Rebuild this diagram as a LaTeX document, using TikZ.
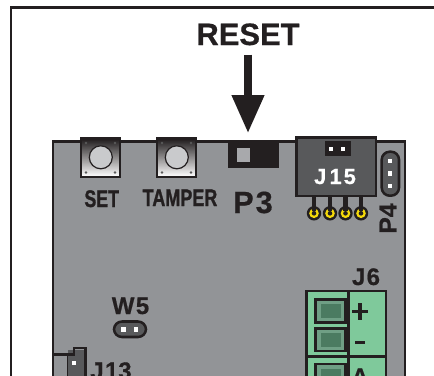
\documentclass[tikz,border=0pt]{standalone}
\usepackage{fontspec}
\setmainfont{Liberation Sans}
\newfontfamily\heavyface[FakeBold=1.4]{Liberation Sans Bold}
\newfontfamily\midface[FakeBold=0.6]{Liberation Sans Bold}
\usetikzlibrary{arrows.meta}
\definecolor{ink}{HTML}{231F20}
\definecolor{board}{HTML}{929497}
\definecolor{module}{HTML}{58595B}
\definecolor{termgreen}{HTML}{7FC99B}
\definecolor{termdark}{HTML}{4B7B61}
\definecolor{termbevel}{HTML}{6F9F85}
\definecolor{capgray}{HTML}{C9CACC}
\definecolor{pinyellow}{HTML}{F5D90A}
\newcommand{\pxfont}[1]{\fontsize{#1}{#1}\selectfont\midface}
\newcommand{\heavyfont}[1]{\fontsize{#1}{#1}\selectfont\heavyface}
\tikzset{
  frameline/.style={draw=ink,line width=2.2pt},
  boardbody/.style={fill=board,draw=ink,line width=2.2pt},
  lab/.style={text=ink,inner sep=0pt,anchor=base,font=\pxfont{18}},
  narrowlab/.style={text=ink,inner sep=0pt,anchor=base,font=\heavyfont{18}},
  hole/.style={fill=white,draw=none},
  pill/.style={fill=module,draw=ink,line width=1.9pt,rounded corners=6pt},
  termwell/.style={fill=termbevel,draw=ink,line width=2pt},
  termface/.style={fill=termdark,draw=none},
  greenblock/.style={fill=termgreen,draw=ink,line width=1.9pt},
  capdisc/.style={fill=capgray,draw=ink,line width=.9pt},
  capdot/.style={fill=gray!70!black,draw=none},
}
\newcommand{\terminal}[2]{%
  \draw[termwell] (315.7,#1) rectangle (345.7,#2);
  \fill[termface] (320.5,#1+4.5) rectangle (341,#2-4.5);}
\newcommand{\capswitch}[1]{%
  \foreach \row in {0,...,38} {
    \pgfmathtruncatemacro{\dark}{max(0,min(100,104-2.7*\row))}
    \fill[ink!\dark!white] (#1-19.5,138+\row) rectangle (#1+19.5,139.2+\row);
  }
  \draw[ink,line width=.8pt] (#1-19.5,138) rectangle (#1+19.5,177);
  \foreach \dx in {-14.5,14.5} \foreach \yy in {143,172.5}
    \fill[capdot] (#1+\dx,\yy) circle (1.3);
  \draw[capdisc] (#1+.3,157.3) circle (11.5);}
\begin{document}
\begin{tikzpicture}[x=.75pt,y=-.75pt]
\useasboundingbox (0,0) rectangle (434,375);
\clip (0,0) rectangle (434,375);
\fill[white] (0,0) rectangle (434,375);
% outer frame
\draw[frameline] (440,7.5) -- (11,7.5) -- (11,380);
% board
\draw[boardbody] (53,380) -- (53,141.5) -- (405,141.5) -- (405,380);
% RESET + arrow
\node[text=ink,inner sep=0pt,anchor=base,font=\pxfont{23.2}] (reset) at (248,45) {RESET};
\coordinate (tip) at (248,133);
\draw[ink,line width=5.5pt,shorten <=6.8pt,-{Triangle[length=28.5pt,width=23.3pt]}] (reset.south) -- (reset.south |- tip);
% tactile switches
\capswitch{100.5}
\capswitch{176.5}
\node[narrowlab] (set) at (101.7,207) {\scalebox{.74}[1]{SET}};
\node[narrowlab] (tamper) at (180,206) {\scalebox{.75}[1]{TAMPER}};
% P3
\fill[ink] (227.7,141) rectangle (279,167.7);
\fill[board!80!white] (236.7,147.7) rectangle (250,161.7);
\node[text=ink,inner sep=0pt,anchor=base,font=\pxfont{23}] (ptre) at (253,213) {P\kern1.5pt3};
% J15
\foreach \px in {314,330,345.5,361} {
  \fill[ink] (\px,213.3) circle (7.2);
  \fill[pinyellow] (\px,213.3) circle (4.8);
  \fill[ink] (\px,213.3) circle (2.3);
  \draw[ink,line width=3.7pt] (\px,195) -- (\px,211);
}
\draw[fill=module,draw=ink,line width=1.9pt] (296.7,137.5) rectangle (376,196);
\fill[ink] (325,141) rectangle (350.7,155.7);
\fill[hole] (329,146.5) rectangle (333,150.5);
\fill[hole] (341,146.5) rectangle (345,150.5);
\node[text=white,inner sep=0pt,anchor=base,font=\pxfont{16.4}] (jquindici) at (335,184) {J\kern2.5pt1\kern1.5pt5};
% P4
\draw[pill] (381.7,151.7) rectangle (399,195.7);
\foreach \yy in {161,173.7,186} \fill[hole] (387.7,\yy-2.3) rectangle (392.3,\yy+2.3);
\node[text=ink,inner sep=0pt,rotate=90,font=\pxfont{18.5}] (pquattro) at (388,218.5) {P4};
% J6 terminals
\node[lab] (jsei) at (366,285) {J\kern1pt6};
\draw[greenblock] (306.7,291) rectangle (386,356.7);
\draw[greenblock] (306.7,356.7) rectangle (386,385);
\draw[ink,line width=1.9pt] (348.7,291) -- (348.7,385);
\terminal{299.3}{322.3}
\terminal{328.3}{351}
\terminal{364}{387}
\fill[ink] (352,309.7) rectangle (368,313.3);
\fill[ink] (358.2,303) rectangle (361.8,320);
\fill[ink] (355,340.8) rectangle (365,344.2);
\node[lab] (terma) at (360,385) {A};
% W5
\node[lab] (wcinque) at (130.5,314) {W\kern1pt5};
\draw[pill,line width=1.9pt,rounded corners=6pt] (114,321.5) rectangle (146,337);
\fill[hole] (121.3,327) rectangle (125.7,331.5);
\fill[hole] (133.8,327) rectangle (138.2,331.5);
% J13
\fill[module] (68,350) -- (85,350) -- (85,380) -- (68,380) -- cycle;
\draw[ink,line width=1.9pt] (54,354.5) -- (74,354.5) -- (74,348) -- (85.5,348) -- (85.5,380);
\draw[ink,line width=1pt] (67.5,355) -- (67.5,380);
\fill[hole] (71.7,360.7) rectangle (76.3,365.3);
\node[lab] (jtredici) at (111,379) {J\kern1pt13};
\end{tikzpicture}
\end{document}
